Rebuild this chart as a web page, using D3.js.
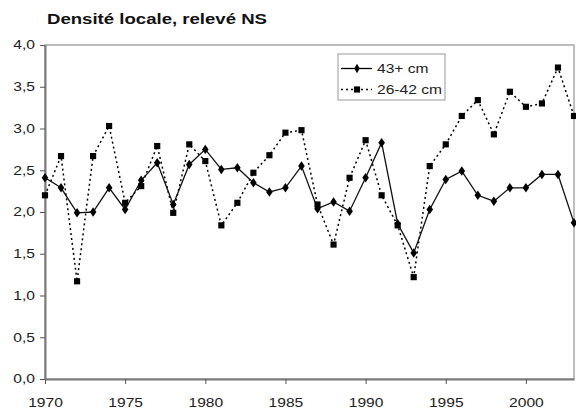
<!DOCTYPE html>
<html>
<head>
<meta charset="utf-8">
<script src="https://cdn.jsdelivr.net/npm/d3@7"></script>
<style>
  body { margin: 0; background: #fff; }
  svg { display: block; font-family: "Liberation Sans", Arial, sans-serif; }
</style>
</head>
<body>
<svg id="root"></svg>
<script>
// Densité locale chart

const years = d3.range(1970, 2004);
const big = [2.41, 2.29, 1.99, 2.00, 2.29, 2.03, 2.38, 2.59, 2.09, 2.57,
  2.75, 2.51, 2.53, 2.35, 2.24, 2.29, 2.55, 2.04, 2.12, 2.01,
  2.41, 2.83, 1.86, 1.51, 2.03, 2.39, 2.49, 2.20, 2.13, 2.29,
  2.29, 2.45, 2.45, 1.87];
const mid = [2.20, 2.67, 1.17, 2.67, 3.03, 2.11, 2.31, 2.79, 1.99, 2.81,
  2.61, 1.84, 2.11, 2.47, 2.68, 2.95, 2.98, 2.09, 1.61, 2.41,
  2.86, 2.20, 1.84, 1.22, 2.55, 2.81, 3.15, 3.34, 2.93, 3.44,
  3.26, 3.30, 3.73, 3.15];
const yTicks = [0, 0.5, 1, 1.5, 2, 2.5, 3, 3.5, 4];
const xTicks = [1970, 1975, 1980, 1985, 1990, 1995, 2000];
const seriesNames = ["43+ cm", "26-42 cm"];
const title = "Densité locale, relevé NS";

const W = 576, H = 408;
const margin = { top: 45, right: 2, bottom: 29, left: 45 };
const width = W - margin.left - margin.right,
  height = H - margin.top - margin.bottom;
const stretch = 1.3; // text in the picture is wide

const svg = d3.select("#root").attr("width", W).attr("height", H);
const g = svg.append("g").attr("transform", `translate(${margin.left},${margin.top})`);

const x = d3.scaleLinear([1970, 2003], [0, width]);
const y = d3.scaleLinear([0, 4], [height, 0]);
const fmt = d3.format(".1f");

// plot frame (top and right)
g.append("rect")
  .attr("x", 0).attr("y", 0)
  .attr("width", width).attr("height", height)
  .attr("fill", "none")
  .attr("stroke", "#a8a8a8")
  .attr("stroke-width", 1.5);

// axes
const xAxis = g.append("g")
  .attr("transform", `translate(0,${height})`)
  .call(d3.axisBottom(x).tickValues(xTicks).tickFormat(d3.format("d"))
    .tickSizeInner(5).tickSizeOuter(0).tickPadding(14));
const yAxis = g.append("g")
  .call(d3.axisLeft(y).tickValues(yTicks).tickFormat((d) => fmt(d).replace(".", ","))
    .tickSizeInner(5).tickSizeOuter(0).tickPadding(5));

[xAxis, yAxis].forEach((ax) => {
  ax.select(".domain").attr("stroke", "#7a7a7a").attr("stroke-width", 2);
  ax.selectAll(".tick line").attr("stroke", "#555");
  ax.selectAll("text")
    .attr("font-size", 12)
    .attr("font-family", "Liberation Sans, Arial, sans-serif")
    .attr("fill", "#222")
    .attr("transform", `scale(${stretch},1)`);
});
yAxis.selectAll("text").attr("x", -10 / stretch);

// lines
const line = (vals) => d3.line()
  .x((d, i) => x(years[i]))
  .y((d) => y(d))(vals);

g.append("path")
  .attr("d", line(mid))
  .attr("fill", "none")
  .attr("stroke", "#000")
  .attr("stroke-width", 1.5)
  .attr("stroke-dasharray", "2,3");

g.append("path")
  .attr("d", line(big))
  .attr("fill", "none")
  .attr("stroke", "#111")
  .attr("stroke-width", 1.3);

const diamond = d3.symbol().type(d3.symbolDiamond).size(26);
const square = d3.symbol().type(d3.symbolSquare).size(38);

g.selectAll(".sq")
  .data(mid)
  .join("path")
  .attr("class", "sq")
  .attr("d", square)
  .attr("transform", (d, i) => `translate(${x(years[i])},${y(d)})`)
  .attr("fill", "#000");

g.selectAll(".dm")
  .data(big)
  .join("path")
  .attr("class", "dm")
  .attr("d", diamond)
  .attr("transform", (d, i) => `translate(${x(years[i])},${y(d)}) scale(1.2,1)`)
  .attr("fill", "#000");

// legend
const lg = svg.append("g").attr("transform", "translate(338,54)");
lg.append("rect")
  .attr("width", 107).attr("height", 46)
  .attr("fill", "#fff")
  .attr("stroke", "#999")
  .attr("stroke-width", 1);

const rows = [
  { name: seriesNames[0], dash: null, sym: diamond, sw: 1.3 },
  { name: seriesNames[1], dash: "2,3", sym: square, sw: 1.5 },
];
rows.forEach((r, i) => {
  const ry = 14.5 + i * 21;
  lg.append("line")
    .attr("x1", 3).attr("x2", 34)
    .attr("y1", ry).attr("y2", ry)
    .attr("stroke", "#000")
    .attr("stroke-width", r.sw)
    .attr("stroke-dasharray", r.dash);
  lg.append("path")
    .attr("d", r.sym)
    .attr("transform", `translate(19,${ry})`)
    .attr("fill", "#000");
  lg.append("text")
    .attr("transform", `translate(39,${ry + 4.5}) scale(${stretch},1)`)
    .attr("font-size", 12)
    .attr("fill", "#222")
    .text(r.name);
});

// title
svg.append("text")
  .attr("transform", `translate(47,24) scale(${stretch},1)`)
  .attr("font-size", 14.3)
  .attr("font-weight", "bold")
  .attr("fill", "#111")
  .text(title);
</script>
</body>
</html>
